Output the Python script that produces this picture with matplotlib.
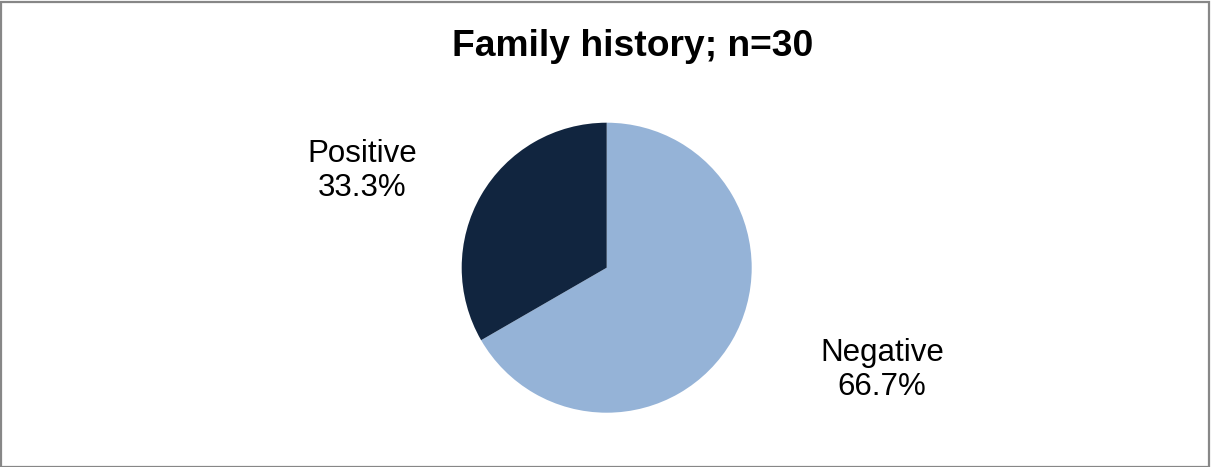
import matplotlib
matplotlib.use("Agg")
import matplotlib.pyplot as plt
from matplotlib.patches import Rectangle

plt.rcParams['font.family'] = ['Liberation Sans', 'DejaVu Sans']

categories = ["Negative", "Positive"]
counts = [20, 10]
colors = ["#95B3D7", "#11253F"]
title = "Family history; n=30"

W, H = 1211, 467
fig = plt.figure(figsize=(W / 100, H / 100), dpi=100)

# pie axes: centre (606.7, 267.7) px, radius 145 px
cx, cy, r = 606.7, 267.7, 145.0
ax = fig.add_axes([(cx - r) / W, (H - cy - r) / H, 2 * r / W, 2 * r / H])
total = sum(counts)
wedges, texts = ax.pie(counts, colors=colors, startangle=90, counterclock=False,
                       labels=[f"{c}\n{v / total * 100:.1f}%" for c, v in zip(categories, counts)],
                       labeldistance=1.5,
                       wedgeprops=dict(linewidth=0),
                       textprops=dict(fontsize=22.5, ha='center', va='center', linespacing=1.2))
ax.set_xlim(-1, 1)
ax.set_ylim(-1, 1)
ax.set_aspect('equal')

# label positions in data units (radius = 1)
label_pos = {"Negative": ((882 - cx) / r, (cy - 370) / r),
             "Positive": ((362 - cx) / r, (cy - 171) / r)}
for t, c in zip(texts, categories):
    t.set_position(label_pos[c])
    t.set_clip_on(False)

fig.text(633 / W, 1 - 47 / H, title, fontsize=26.8, fontweight='bold',
         ha='center', va='center')

fig.patches.append(Rectangle((0.5 / W, 0.5 / H), 1 - 2.5 / W, 1 - 2 / H,
                             transform=fig.transFigure, fill=False,
                             edgecolor='#878787', linewidth=1.6))

fig.savefig("out.png", dpi=100)
